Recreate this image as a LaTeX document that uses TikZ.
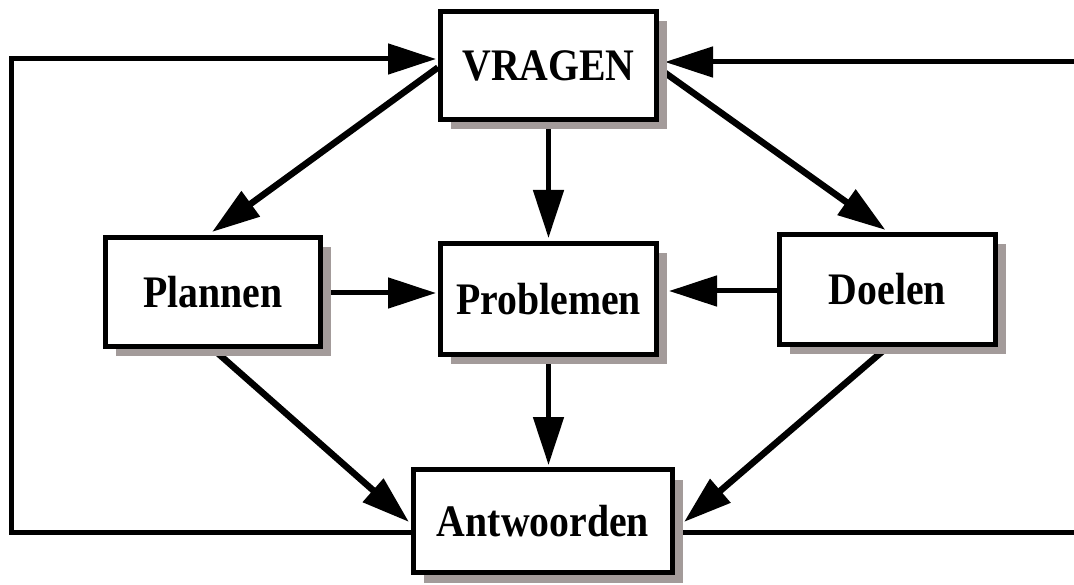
\documentclass[tikz,border=0pt]{standalone}
\usepackage{fontspec}
\usepackage{graphicx}
\setmainfont{Liberation Serif}
\usetikzlibrary{arrows.meta,shadows,calc}
\pgfdeclarelayer{background}
\pgfsetlayers{background,main}
\definecolor{shadowgrey}{HTML}{A39B9A}
\newcommand{\boxlabel}[1]{\scalebox{0.97}[1.1]{#1}}
\begin{document}
\begin{tikzpicture}[x=1pt,y=-1pt,
  box/.style={draw=black, line width=5pt, fill=white, inner sep=0pt,
    font=\fontsize{41}{49}\selectfont\bfseries,
    drop shadow={shadow xshift=10pt, shadow yshift=-10pt, fill=shadowgrey, opacity=1}},
  conn/.style={line width=5pt, line join=miter},
  diag/.style={line width=6.5pt},
  tip/.style={-{Triangle[length=48pt,width=30pt]}}
]
\useasboundingbox (0,0) rectangle (1074,585);
\node[box, minimum width=216pt, minimum height=108pt] (v) at (548.5,65.5) {\boxlabel{VRAGEN}};
\node[box, minimum width=215pt, minimum height=109pt] (p) at (213,292) {\boxlabel{Plannen}};
\node[box, minimum width=216pt, minimum height=111pt] (pr) at (548.5,299) {\boxlabel{Problemen}};
\node[box, minimum width=216pt, minimum height=110pt] (d) at (887.5,289.5) {\boxlabel{Doelen}};
\node[box, minimum width=259pt, minimum height=103pt] (a) at (543,521) {\boxlabel{Antwoorden}};
\coordinate (ll) at (11,532);
\coordinate (lu) at (11,59);
\coordinate (rt) at (1074,62);
\coordinate (rb) at (1074,532);
\begin{pgfonlayer}{background}
  % diagonals
  \draw[diag, tip] ($(v.west)+(0,2)$) -- ($(p.north)+(-1,-3)$);
  \draw[diag, tip] ($(v.east)+(0,3)$) -- ($(d.north)+(-2,-2)$);
  \draw[diag, tip] (p.south) -- ($(a.west)+(-2,1)$);
  \draw[diag, tip] (d.south) -- ($(a.east)+(9,1)$);
  % straight
  \draw[conn, tip] (v.south -| pr.north) -- ($(pr.north)+(0,-3)$);
  \draw[conn, tip] (pr.south) -- ($(pr.south |- a.north)+(0,-2)$);
  \draw[conn, tip] ($(p.east)+(0,1)$) -- ($(p.east -| pr.west)+(-2,1)$);
  \draw[conn, tip] ($(d.west)+(0,1.5)$) -- ($(d.west -| pr.east)+(10,1.5)$);
  % loops
  \draw[conn, tip] (a.west |- ll) -- (ll) -- (lu) -- ($(lu -| v.west)+(-2,0)$);
  \draw[conn, tip] (rt) -- ($(rt -| v.east)+(6,0)$);
  \draw[conn] (a.east |- rb) -- (rb);
\end{pgfonlayer}
\end{tikzpicture}
\end{document}
